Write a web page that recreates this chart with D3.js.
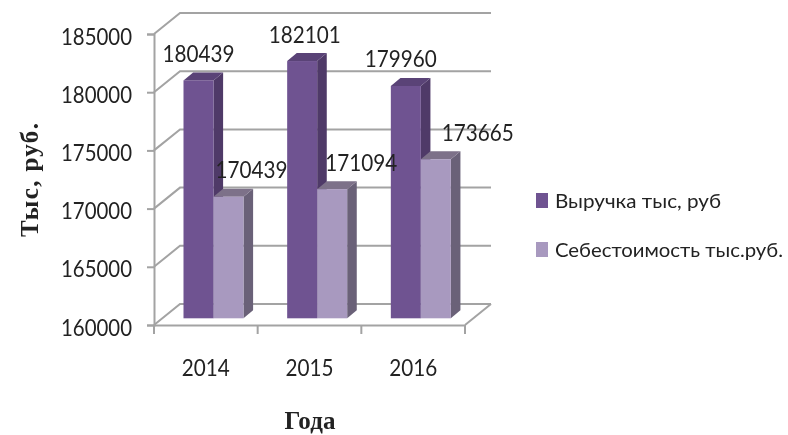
<!DOCTYPE html>
<html>
<head>
<meta charset="utf-8">
<script src="https://d3js.org/d3.v7.min.js"></script>
<style>
    body { margin: 0; background: #fff; }
    svg { display: block; filter: blur(0.4px); }
    text { font-family: Lato, "Open Sans", sans-serif; fill: #222; }
</style>
</head>
<body>
<svg id="drawing_region" width="788" height="435"></svg>
<script>
const years = ["2014", "2015", "2016"];
const seriesNames = ["Выручка тыс, руб", "Себестоимость тыс.руб."];
const revenue = [180439, 182101, 179960];
const cost = [170439, 171094, 173665];
const yTicks = [160000, 165000, 170000, 175000, 180000, 185000];

const colors = [
    { front: "#6f5391", side: "#4f3a68", top: "#5a4377" },
    { front: "#a899bf", side: "#6a6178", top: "#7d7189" }
];

// fake 3d: back wall is shifted by this much from the front axes
const wallDx = 26, wallDy = 21;
const barDy = 6.7, barDepthX = 9.6, barDepthY = 8;
// labels in the original were dragged around by hand
const labelDx = [[0, 23], [2.5, 29], [-5, 42]];

const svg = d3.select("#drawing_region");
const x = d3.scaleBand().domain(years).range([154, 465]);
const xInner = d3.scaleBand().domain([0, 1]).range([29.5, 89.5]);
const y = d3.scaleLinear().domain([160000, 185000]).range([325, 34]);

// squeezed Lato stands in for the narrow Calibri of the original
function squeeze(sel, width) {
    sel.style("font-family", "Lato")
        .style("font-size", "23px")
        .attr("fill", "#222")
        .attr("textLength", width)
        .attr("lengthAdjust", "spacingAndGlyphs");
}

// walls
const grid = svg.append("g").attr("fill", "none").attr("stroke", "#a3a3a3").attr("stroke-width", 2);
grid.selectAll("polyline")
    .data(yTicks)
    .join("polyline")
    .attr("points", d => `${x.range()[0]},${y(d)} ${x.range()[0] + wallDx},${y(d) - wallDy} ${x.range()[1] + wallDx},${y(d) - wallDy}`);
grid.append("polyline")
    .attr("points", `${x.range()[1]},${y(160000)} ${x.range()[1] + wallDx},${y(160000) - wallDy}`);

// axes
const yAxis = svg.append("g")
    .attr("transform", `translate(${x.range()[0]},0)`)
    .call(d3.axisLeft(y).tickValues(yTicks).tickFormat(d3.format("d")).tickSize(7).tickPadding(15));
const xAxis = svg.append("g")
    .attr("transform", `translate(0,${y(160000)})`)
    .call(d3.axisBottom(x).tickSize(0).tickPadding(35));
svg.selectAll(".domain, .tick line").attr("stroke", "#a3a3a3").attr("stroke-width", 2);
yAxis.selectAll(".tick text").call(squeeze, 71).attr("dy", "10");
xAxis.selectAll(".tick text").call(squeeze, 48);
svg.append("g").selectAll("line")
    .data([...years.map(d => x(d)), x.range()[1]])
    .join("line")
    .attr("x1", d => d).attr("x2", d => d)
    .attr("y1", y(160000)).attr("y2", y(160000) + 9)
    .attr("stroke", "#a3a3a3").attr("stroke-width", 2);

// bars
const base = y(160000) - barDy;
const bars = [];
years.forEach((year, i) => {
    [revenue[i], cost[i]].forEach((value, s) => bars.push({ year, value, s, i }));
});
const bar = svg.append("g").selectAll("g")
    .data(bars)
    .join("g");
const bx = d => x(d.year) + xInner(d.s);
const by = d => y(d.value) - barDy;
const bw = xInner.bandwidth();
bar.append("polygon")
    .attr("fill", d => colors[d.s].side)
    .attr("points", d => `${bx(d) + bw},${by(d)} ${bx(d) + bw + barDepthX},${by(d) - barDepthY} ${bx(d) + bw + barDepthX},${base - barDepthY} ${bx(d) + bw},${base}`);
bar.append("polygon")
    .attr("fill", d => colors[d.s].top)
    .attr("points", d => `${bx(d)},${by(d)} ${bx(d) + barDepthX},${by(d) - barDepthY} ${bx(d) + bw + barDepthX},${by(d) - barDepthY} ${bx(d) + bw},${by(d)}`);
bar.append("rect")
    .attr("x", bx)
    .attr("y", by)
    .attr("width", bw)
    .attr("height", d => base - by(d))
    .attr("fill", d => colors[d.s].front);

// value labels
svg.append("g").selectAll("text")
    .data(bars)
    .join("text")
    .attr("x", d => bx(d) + bw / 2 + labelDx[d.i][d.s])
    .attr("y", d => by(d) - 18.5)
    .attr("text-anchor", "middle")
    .text(d => d.value)
    .call(squeeze, 72);

// titles
svg.append("text")
    .attr("transform", "translate(37.5,180) rotate(-90)")
    .attr("text-anchor", "middle")
    .style("font-family", "'Liberation Serif'")
    .style("font-weight", "bold")
    .style("font-size", "25px")
    .attr("fill", "#111")
    .attr("textLength", 114)
    .text("Тыс, руб.");
svg.append("text")
    .attr("x", 310)
    .attr("y", 429)
    .attr("text-anchor", "middle")
    .style("font-family", "'Liberation Serif'")
    .style("font-weight", "bold")
    .style("font-size", "25px")
    .attr("fill", "#111")
    .attr("textLength", 51)
    .text("Года");

// legend
const legendWidths = [166, 228];
const legend = svg.append("g").selectAll("g")
    .data(seriesNames)
    .join("g")
    .attr("transform", (d, i) => `translate(536,${200.5 + i * 49})`);
legend.append("rect")
    .attr("y", -7.5).attr("width", 12).attr("height", 15)
    .attr("fill", (d, i) => colors[i].front);
legend.append("text")
    .attr("x", 19).attr("y", 7.5)
    .text(d => d)
    .each(function (d, i) { d3.select(this).call(squeeze, legendWidths[i]).style("font-size", "20px"); });
</script>
</body>
</html>
